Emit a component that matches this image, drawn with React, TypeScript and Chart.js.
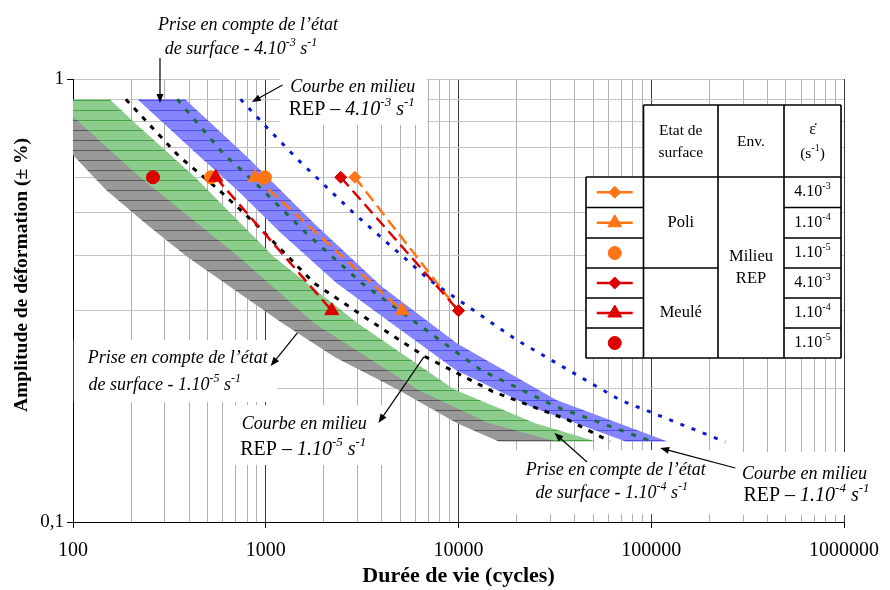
import React, { useEffect, useRef } from 'react';
import { Chart, registerables } from 'chart.js';
import { drawPoint } from 'chart.js/helpers';

Chart.register(...registerables);

const SERIF = '"Liberation Serif", "Times New Roman", serif';

// ---------------- axes ----------------
const X_DECADES = [100, 1000, 10000, 100000, 1000000];
const X_TICK_LABELS = ['100', '1000', '10000', '100000', '1000000'];
const Y_TICKS = [0.1, 0.2, 0.3, 0.4, 0.5, 0.6, 0.7, 0.8, 0.9, 1];
const Y_DECADES = [0.1, 1];
const Y_TICK_LABELS = ['0,1', '1'];

// ---------------- bands (upper / lower edges) ----------------
const GRAY_UP_X = [100, 254, 833, 2050, 7040, 16500, 37000];
const GRAY_UP_Y = [0.9, 0.602, 0.397, 0.281, 0.199, 0.167, 0.152];
const GRAY_LOW_X = [100, 148, 238, 391, 690, 1222, 2262, 4830, 9830, 16200, 37000];
const GRAY_LOW_Y = [0.674, 0.562, 0.472, 0.397, 0.334, 0.281, 0.236, 0.199, 0.167, 0.152, 0.152];

const GREEN_UP_X = [100, 155, 211, 430, 1100, 3000, 9500, 25000, 51760];
const GREEN_UP_Y = [0.9, 0.9, 0.794, 0.6, 0.397, 0.281, 0.199, 0.167, 0.152];
const GREEN_LOW_X = [100, 221, 724, 1784, 6120, 14370, 32190, 51760];
const GREEN_LOW_Y = [0.822, 0.602, 0.397, 0.281, 0.199, 0.167, 0.152, 0.152];

const BLUE_UP_X = [216, 382, 797, 1784, 3995, 9840, 32190, 121500];
const BLUE_UP_Y = [0.9, 0.9, 0.668, 0.472, 0.34, 0.253, 0.1886, 0.152];
const BLUE_LOW_X = [216, 435, 708, 1202, 2335, 4758, 9680, 23840, 73570, 121500];
const BLUE_LOW_Y = [0.9, 0.68, 0.562, 0.4485, 0.346, 0.276, 0.2203, 0.182, 0.152, 0.152];

// ---------------- reference curves ----------------
const REP15_X = [188, 356, 571, 918, 1784, 3635, 6730, 15070, 37060, 61100];
const REP15_Y = [0.9, 0.668, 0.562, 0.464, 0.346, 0.281, 0.236, 0.197, 0.17, 0.152];
const REP14_X = [347, 600, 963, 1623, 3152, 6423, 13070, 32190, 100500];
const REP14_Y = [0.9, 0.68, 0.562, 0.4485, 0.346, 0.276, 0.2203, 0.182, 0.152];
const REP43_X = [740, 986, 1476, 2867, 7058, 20020, 68770, 242500];
const REP43_Y = [0.9, 0.787, 0.656, 0.4975, 0.352, 0.2576, 0.1886, 0.1516];

// ---------------- experimental series ----------------
const POLI_43_X = [2900, 10000];
const POLI_43_Y = [0.6, 0.3];
const POLI_14_X = [880, 5100];
const POLI_14_Y = [0.6, 0.3];
const POLI_15_X = [520, 990];
const POLI_15_Y = [0.6, 0.6];
const MEULE_43_X = [2450, 10000];
const MEULE_43_Y = [0.6, 0.3];
const MEULE_14_X = [550, 2200];
const MEULE_14_Y = [0.6, 0.3];
const MEULE_15_X = [260];
const MEULE_15_Y = [0.6];

const ORANGE = '#ff7414';
const RED = '#dc0000';

type Seg = { t: string; it?: boolean; sup?: boolean; bold?: boolean };
const it = (t: string): Seg => ({ t, it: true });
const itSup = (t: string): Seg => ({ t, it: true, sup: true });
const up = (t: string): Seg => ({ t });
const upSup = (t: string): Seg => ({ t, sup: true });

const SERIES = [
  { label: 'Poli 4.10-3', xs: POLI_43_X, ys: POLI_43_Y, color: ORANGE, style: 'rectRot', radius: 6, line: true, order: 6 },
  { label: 'Poli 1.10-4', xs: POLI_14_X, ys: POLI_14_Y, color: ORANGE, style: 'triangle', radius: 8, line: true, order: 5 },
  { label: 'Poli 1.10-5', xs: POLI_15_X, ys: POLI_15_Y, color: ORANGE, style: 'circle', radius: 6.5, line: false, order: 4 },
  { label: 'Meulé 4.10-3', xs: MEULE_43_X, ys: MEULE_43_Y, color: RED, style: 'rectRot', radius: 6, line: true, order: 3 },
  { label: 'Meulé 1.10-4', xs: MEULE_14_X, ys: MEULE_14_Y, color: RED, style: 'triangle', radius: 8, line: true, order: 2 },
  { label: 'Meulé 1.10-5', xs: MEULE_15_X, ys: MEULE_15_Y, color: RED, style: 'circle', radius: 6.5, line: false, order: 1 },
];
const RATES: [string, string][] = [['4.10', '-3'], ['1.10', '-4'], ['1.10', '-5'], ['4.10', '-3'], ['1.10', '-4'], ['1.10', '-5']];

// annotation anchors are in data coordinates; box offsets in px around the anchor
const ANNOTATIONS = [
  { x: 808.6, y: 1.324, sizes: [18, 18], dx2: -7, dy: 24, box: null as null | number[],
    lines: [[it('Prise en compte de l’état')], [it('de surface - 4.10'), itSup('-3'), it(' s'), itSup('-1')]],
    arrow: [282.7, 1.115, 282.7, 0.883] },
  { x: 2827, y: 0.9593, sizes: [18, 20], dx2: -1, dy: 23, box: [-73, -17, 74, 38],
    lines: [[it('Courbe en milieu')], [up('REP – '), it('4.10'), itSup('-3'), it(' s'), itSup('-1')]],
    arrow: [1222, 0.9693, 847, 0.887] },
  { x: 349.6, y: 0.2345, sizes: [18, 18], dx2: -13, dy: 27, box: [-104, -18, 99, 44],
    lines: [[it('Prise en compte de l’état')], [it('de surface - 1.10'), itSup('-5'), it(' s'), itSup('-1')]],
    arrow: [1459, 0.2671, 1061, 0.2249] },
  { x: 1585, y: 0.1664, sizes: [18, 20], dx2: -1, dy: 26, box: [-75, -19, 88, 41],
    lines: [[it('Courbe en milieu')], [up('REP – '), it('1.10'), itSup('-5'), it(' s'), itSup('-1')]],
    arrow: [6614, 0.2358, 3842, 0.1673] },
  { x: 65380, y: 0.131, sizes: [18, 18], dx2: -4, dy: 23, box: [-102, -20, 103, 44],
    lines: [[it('Prise en compte de l’état')], [it('de surface - 1.10'), itSup('-4'), it(' s'), itSup('-1')]],
    arrow: [46420, 0.1366, 31440, 0.1589] },
  { x: 623500, y: 0.1283, sizes: [18, 20], dx2: 2, dy: 22, box: [-73, -22, 77, 41],
    lines: [[it('Courbe en milieu')], [up('REP – '), it('1.10'), itSup('-4'), it(' s'), itSup('-1')]],
    arrow: [272900, 0.1324, 111200, 0.1469] },
];

const TABLE_COLS = [586, 643.5, 718, 784, 841];
const TABLE_ROWS = [105, 177, 207.5, 238, 268, 298, 328, 358];

const pts = (xs: number[], ys: number[]) => xs.map((x, i) => ({ x, y: ys[i] }));
const isDecade = (v: any) => {
  if (typeof v !== 'number' || v <= 0) return false;
  const l = Math.log10(v);
  return Math.abs(l - Math.round(l)) < 1e-9;
};

function makePattern(base: string, line: string, period: number) {
  const c = document.createElement('canvas');
  c.width = 8;
  c.height = period;
  const g = c.getContext('2d')!;
  g.fillStyle = base;
  g.fillRect(0, 0, 8, period);
  g.fillStyle = line;
  g.fillRect(0, 0, 8, 1);
  return g.createPattern(c, 'repeat')!;
}

function segFont(s: Seg, size: number) {
  const sz = s.sup ? Math.round(size * 0.64) : size;
  return `${s.it ? 'italic ' : ''}${s.bold ? 'bold ' : ''}${sz}px ${SERIF}`;
}
function measureRich(ctx: CanvasRenderingContext2D, segs: Seg[], size: number) {
  let w = 0;
  for (const s of segs) {
    ctx.font = segFont(s, size);
    w += ctx.measureText(s.t).width;
  }
  return w;
}
function drawRich(ctx: CanvasRenderingContext2D, segs: Seg[], cx: number, cy: number, size: number) {
  const w = measureRich(ctx, segs, size);
  let x = cx - w / 2;
  ctx.textAlign = 'left';
  ctx.textBaseline = 'middle';
  for (const s of segs) {
    ctx.font = segFont(s, size);
    ctx.fillText(s.t, x, s.sup ? cy - size * 0.36 : cy);
    x += ctx.measureText(s.t).width;
  }
}

function drawArrow(ctx: CanvasRenderingContext2D, x1: number, y1: number, x2: number, y2: number) {
  const ang = Math.atan2(y2 - y1, x2 - x1);
  const L = 9, W = 3.5;
  ctx.beginPath();
  ctx.moveTo(x1, y1);
  ctx.lineTo(x2 - Math.cos(ang) * L * 0.8, y2 - Math.sin(ang) * L * 0.8);
  ctx.stroke();
  ctx.beginPath();
  ctx.moveTo(x2, y2);
  ctx.lineTo(x2 - Math.cos(ang) * L - Math.sin(ang) * W, y2 - Math.sin(ang) * L + Math.cos(ang) * W);
  ctx.lineTo(x2 - Math.cos(ang) * L + Math.sin(ang) * W, y2 - Math.sin(ang) * L - Math.cos(ang) * W);
  ctx.closePath();
  ctx.fill();
}

const annotPlugin = {
  id: 'annot',
  beforeDatasetsDraw(chart: any) {
    const ctx: CanvasRenderingContext2D = chart.ctx;
    const xs = chart.scales.x, ys = chart.scales.y;
    ctx.save();
    for (const a of ANNOTATIONS) {
      const cx = xs.getPixelForValue(a.x), cy = ys.getPixelForValue(a.y);
      if (a.box) {
        ctx.fillStyle = '#ffffff';
        ctx.fillRect(cx + a.box[0], cy + a.box[1], a.box[2] - a.box[0], a.box[3] - a.box[1]);
      }
      ctx.fillStyle = '#000';
      a.lines.forEach((ln, i) => drawRich(ctx, ln, cx + (i ? a.dx2 : 0), cy + i * a.dy, a.sizes[i]));
    }
    ctx.restore();
  },
  afterDatasetsDraw(chart: any) {
    const ctx: CanvasRenderingContext2D = chart.ctx;
    const xs = chart.scales.x, ys = chart.scales.y;
    ctx.save();
    ctx.strokeStyle = '#000';
    ctx.fillStyle = '#000';
    ctx.lineWidth = 1.2;
    for (const a of ANNOTATIONS) {
      const [tx, ty, hx, hy] = a.arrow;
      drawArrow(ctx, xs.getPixelForValue(tx), ys.getPixelForValue(ty), xs.getPixelForValue(hx), ys.getPixelForValue(hy));
    }
    ctx.restore();
  },
  afterDraw(chart: any) {
    const ctx: CanvasRenderingContext2D = chart.ctx;
    const C = TABLE_COLS, R = TABLE_ROWS;
    ctx.save();
    // y axis title
    ctx.save();
    ctx.translate(22, 275);
    ctx.rotate(-Math.PI / 2);
    ctx.fillStyle = '#000';
    ctx.font = `bold 19.5px ${SERIF}`;
    ctx.textAlign = 'center';
    ctx.textBaseline = 'middle';
    ctx.fillText('Amplitude de déformation (± %)', 0, 0);
    ctx.restore();

    // legend table
    ctx.fillStyle = '#fff';
    ctx.fillRect(C[1], R[0], C[4] - C[1], R[1] - R[0]);
    ctx.fillRect(C[0], R[1], C[4] - C[0], R[7] - R[1]);
    ctx.strokeStyle = '#000';
    ctx.lineWidth = 1.6;
    ctx.beginPath();
    const hl = (x1: number, x2: number, y: number) => { ctx.moveTo(x1, y); ctx.lineTo(x2, y); };
    const vl = (x: number, y1: number, y2: number) => { ctx.moveTo(x, y1); ctx.lineTo(x, y2); };
    hl(C[1], C[4], R[0]);
    hl(C[0], C[4], R[1]);
    hl(C[0], C[4], R[7]);
    [2, 3, 5, 6].forEach((r) => { hl(C[0], C[1], R[r]); hl(C[3], C[4], R[r]); });
    hl(C[0], C[2], R[4]);
    hl(C[3], C[4], R[4]);
    vl(C[0], R[1], R[7]);
    for (let i = 1; i < 5; i++) vl(C[i], R[0], R[7]);
    ctx.stroke();

    ctx.fillStyle = '#000';
    const c12 = (C[1] + C[2]) / 2, c23 = (C[2] + C[3]) / 2, c34 = (C[3] + C[4]) / 2, c01 = (C[0] + C[1]) / 2;
    drawRich(ctx, [up('Etat de')], c12, 131, 15.5);
    drawRich(ctx, [up('surface')], c12, 153, 15.5);
    drawRich(ctx, [up('Env.')], c23, 142, 15.5);
    drawRich(ctx, [up('ε̇')], c34, 130, 16);
    drawRich(ctx, [up('(s'), upSup('-1'), up(')')], c34, 154, 15.5);
    drawRich(ctx, [up('Poli')], c12, (R[1] + R[4]) / 2, 16.5);
    drawRich(ctx, [up('Meulé')], c12, (R[4] + R[7]) / 2, 16.5);
    drawRich(ctx, [up('Milieu')], c23, (R[1] + R[7]) / 2 - 11, 16.5);
    drawRich(ctx, [up('REP')], c23, (R[1] + R[7]) / 2 + 11, 16.5);
    RATES.forEach(([a, b], i) => {
      drawRich(ctx, [up(a), upSup(b)], c34, (R[i + 1] + R[i + 2]) / 2, 16);
    });
    SERIES.forEach((s, i) => {
      const cy = (R[i + 1] + R[i + 2]) / 2;
      ctx.strokeStyle = s.color;
      ctx.fillStyle = s.color;
      if (s.line) {
        ctx.lineWidth = 2.5;
        ctx.beginPath();
        ctx.moveTo(c01 - 18, cy);
        ctx.lineTo(c01 + 18, cy);
        ctx.stroke();
      }
      ctx.lineWidth = 1;
      drawPoint(ctx, { pointStyle: s.style as any, radius: s.radius, rotation: 0, borderWidth: 1 }, c01, cy);
    });
    ctx.restore();
  },
};

export default function App() {
  const ref = useRef<HTMLCanvasElement>(null);
  useEffect(() => {
    const canvas = ref.current!;
    const grayPat = makePattern('rgb(152,152,152)', 'rgb(88,88,88)', 10);
    const greenPat = makePattern('rgb(140,204,140)', 'rgb(70,160,70)', 10);
    const bluePat = makePattern('rgb(132,132,252)', 'rgb(78,78,236)', 10);

    const edge = (xs: number[], ys: number[], order: number, fill: any, bg: any) => ({
      data: pts(xs, ys), showLine: true, pointRadius: 0, pointHoverRadius: 0, borderWidth: 0,
      borderColor: 'rgba(0,0,0,0)', backgroundColor: bg, fill, order, tension: 0,
    });
    const curve = (xs: number[], ys: number[], color: string, dash: number[], width: number, order: number) => ({
      data: pts(xs, ys), showLine: true, pointRadius: 0, pointHoverRadius: 0, borderWidth: width,
      borderColor: color, borderDash: dash, fill: false, order, tension: 0,
    });

    const datasets: any[] = [
      { label: 'gray up', ...edge(GRAY_UP_X, GRAY_UP_Y, 20, false, 'rgba(0,0,0,0)') },
      { label: 'Prise en compte de l’état de surface - 1.10-5 s-1', ...edge(GRAY_LOW_X, GRAY_LOW_Y, 20, '-1', grayPat) },
      { label: 'green up', ...edge(GREEN_UP_X, GREEN_UP_Y, 19, false, 'rgba(0,0,0,0)') },
      { label: 'Prise en compte de l’état de surface - 1.10-4 s-1', ...edge(GREEN_LOW_X, GREEN_LOW_Y, 19, '-1', greenPat) },
      { label: 'blue up', ...edge(BLUE_UP_X, BLUE_UP_Y, 18, false, 'rgba(0,0,0,0)') },
      { label: 'Prise en compte de l’état de surface - 4.10-3 s-1', ...edge(BLUE_LOW_X, BLUE_LOW_Y, 18, '-1', bluePat) },
      { label: 'Courbe en milieu REP - 1.10-5 s-1', ...curve(REP15_X, REP15_Y, '#000000', [5, 7], 3, 15) },
      { label: 'Courbe en milieu REP - 1.10-4 s-1', ...curve(REP14_X, REP14_Y, '#1b6b3c', [5, 8], 3, 14) },
      { label: 'Courbe en milieu REP - 4.10-3 s-1', ...curve(REP43_X, REP43_Y, '#0b18cc', [4, 8], 3, 13) },
      ...SERIES.map((s) => ({
        label: s.label, data: pts(s.xs, s.ys), showLine: s.line, borderColor: s.color, backgroundColor: s.color,
        borderWidth: 2.5, borderDash: [12, 6], pointStyle: s.style, pointRadius: s.radius, pointHoverRadius: s.radius,
        pointBackgroundColor: s.color, pointBorderColor: s.color, pointBorderWidth: 1, fill: false, order: s.order, tension: 0,
      })),
    ];

    const xTicks: number[] = [];
    X_DECADES.forEach((d, i) => {
      if (i < X_DECADES.length - 1) for (let k = 1; k <= 9; k++) xTicks.push(k * d);
      else xTicks.push(d);
    });

    const chart = new Chart(canvas, {
      type: 'scatter',
      data: { datasets },
      options: {
        animation: false,
        responsive: false,
        maintainAspectRatio: false,
        events: [],
        layout: { padding: { left: 0, right: 38, top: 79, bottom: 0 } },
        plugins: { legend: { display: false }, tooltip: { enabled: false } },
        scales: {
          x: {
            type: 'logarithmic',
            min: 100,
            max: 1000000,
            afterBuildTicks: (s: any) => { s.ticks = xTicks.map((v) => ({ value: v, major: isDecade(v) })); },
            afterFit: (s: any) => { s.height = 68; },
            ticks: {
              autoSkip: false, maxRotation: 0, padding: 11, color: '#000',
              font: { family: SERIF, size: 20 },
              callback: (v: any) => { const i = X_DECADES.indexOf(Number(v)); return i >= 0 ? X_TICK_LABELS[i] : ''; },
            },
            grid: {
              color: (c: any) => (isDecade(c.tick?.value) ? '#3a3a3a' : '#b0b0b0'),
              lineWidth: 1,
              tickLength: 6,
              tickColor: (c: any) => (isDecade(c.tick?.value) ? '#000' : 'rgba(0,0,0,0)'),
            },
            border: { color: '#000', width: 1 },
            title: { display: true, text: 'Durée de vie (cycles)', color: '#000', font: { family: SERIF, size: 22, weight: 'bold' }, padding: { top: 0, bottom: 0 } },
          },
          y: {
            type: 'logarithmic',
            min: 0.1,
            max: 1,
            afterBuildTicks: (s: any) => { s.ticks = Y_TICKS.map((v) => ({ value: v, major: isDecade(v) })); },
            afterFit: (s: any) => { s.width = 73; },
            ticks: {
              autoSkip: false, padding: 3, color: '#000',
              font: { family: SERIF, size: 19 },
              callback: (v: any) => { const i = Y_DECADES.findIndex((d) => Math.abs(d - Number(v)) < 1e-9); return i >= 0 ? Y_TICK_LABELS[i] : ''; },
            },
            grid: {
              color: '#c4c4c4',
              lineWidth: 1,
              tickLength: 6,
              tickColor: (c: any) => (isDecade(c.tick?.value) ? '#000' : 'rgba(0,0,0,0)'),
            },
            border: { color: '#000', width: 1 },
          },
        },
      } as any,
      plugins: [annotPlugin],
    });
    return () => chart.destroy();
  }, []);

  return (
    <div style={{ position: 'absolute', left: 0, top: 0, width: 890, height: 590, background: '#fff' }}>
      <canvas ref={ref} width={890} height={590} style={{ display: 'block' }} />
    </div>
  );
}
